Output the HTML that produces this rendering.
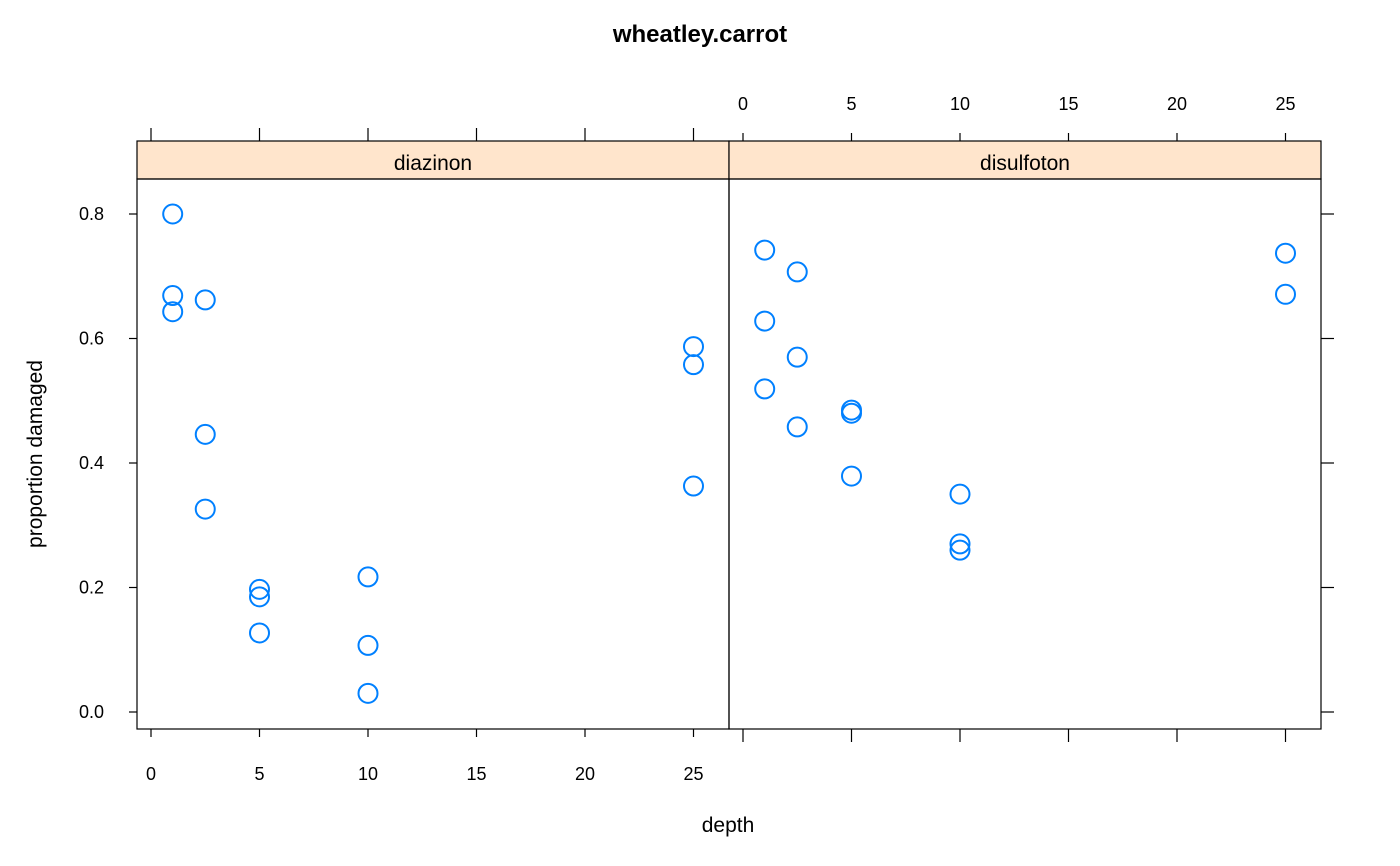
<!DOCTYPE html>
<html><head><meta charset="utf-8"><style>
html,body{margin:0;padding:0;background:#fff}
svg{display:block;font-family:"Liberation Sans",Arial,sans-serif}
</style></head><body>
<svg id="chart" width="1400" height="866">
<text x="700" y="42" text-anchor="middle" font-size="24" font-weight="bold">wheatley.carrot</text>
<text x="728" y="832" text-anchor="middle" font-size="21">depth</text>
<text transform="translate(42,454) rotate(-90)" text-anchor="middle" font-size="21">proportion damaged</text>
<g id="g"></g>
</svg>
<script>
const panels = ["diazinon","disulfoton"];
const xTicks = [0,5,10,15,20,25];
const yTicks = [0,0.2,0.4,0.6,0.8];
const yTickLabels = ["0.0","0.2","0.4","0.6","0.8"];
const diazX = [1,1,1,2.5,2.5,2.5,5,5,5,10,10,10,25,25,25];
const diazY = [0.80,0.669,0.643,0.662,0.446,0.326,0.197,0.185,0.127,0.217,0.107,0.030,0.587,0.558,0.363];
const disuX = [1,1,1,2.5,2.5,2.5,5,5,5,10,10,10,25,25];
const disuY = [0.742,0.628,0.519,0.707,0.570,0.458,0.485,0.480,0.379,0.350,0.270,0.260,0.737,0.671];

const NS="http://www.w3.org/2000/svg", g=document.getElementById('g');
function mk(t,a,txt){const e=document.createElementNS(NS,t);for(const k in a)e.setAttribute(k,a[k]);if(txt!==undefined)e.textContent=txt;g.appendChild(e);return e;}
const PW=592, P0=[137,729], TOP=141, STRIP=179, BOT=729;
function xs(p,v){return P0[p]+14+v*21.7;}
function ys(v){return 712-v*622.5;}

panels.forEach((name,p)=>{
  const x0=P0[p];
  let e=mk('rect',{x:x0,y:TOP,width:PW,height:STRIP-TOP,fill:'#ffe5cc',stroke:'#000','stroke-width':1.2});
  
  
  e=mk('text',{x:x0+PW/2,y:170,'text-anchor':'middle','font-size':21},name);
  
  
  e=mk('rect',{x:x0,y:STRIP,width:PW,height:BOT-STRIP,fill:'none',stroke:'#000','stroke-width':1.2});
  
  
  xTicks.forEach(t=>{
    const x=xs(p,t);
    if(p===0){
      mk('line',{x1:x,x2:x,y1:BOT,y2:BOT+8,stroke:'#000','stroke-width':1.2});
      mk('line',{x1:x,x2:x,y1:TOP,y2:TOP-13,stroke:'#000','stroke-width':1.2});
      e=mk('text',{x:x,y:780,'text-anchor':'middle','font-size':18},t);
      
      
    } else {
      mk('line',{x1:x,x2:x,y1:TOP,y2:TOP-8,stroke:'#000','stroke-width':1.2});
      mk('line',{x1:x,x2:x,y1:BOT,y2:BOT+13,stroke:'#000','stroke-width':1.2});
      e=mk('text',{x:x,y:110,'text-anchor':'middle','font-size':18},t);
      
      
    }
  });
  const X = p===0?diazX:disuX, Y = p===0?diazY:disuY;
  X.forEach((v,i)=>{
    const c=mk('circle',{cx:xs(p,v),cy:ys(Y[i]),r:9.5,fill:'none',stroke:'#0080ff','stroke-width':2});
    
    
  });
});
yTicks.forEach((t,i)=>{
  const y=ys(t);
  mk('line',{x1:137,x2:129,y1:y,y2:y,stroke:'#000','stroke-width':1.2});
  mk('line',{x1:1321,x2:1334,y1:y,y2:y,stroke:'#000','stroke-width':1.2});
  const e=mk('text',{x:104,y:y+6,'text-anchor':'end','font-size':18},yTickLabels[i]);
  
  
});
</script>
</body></html>
